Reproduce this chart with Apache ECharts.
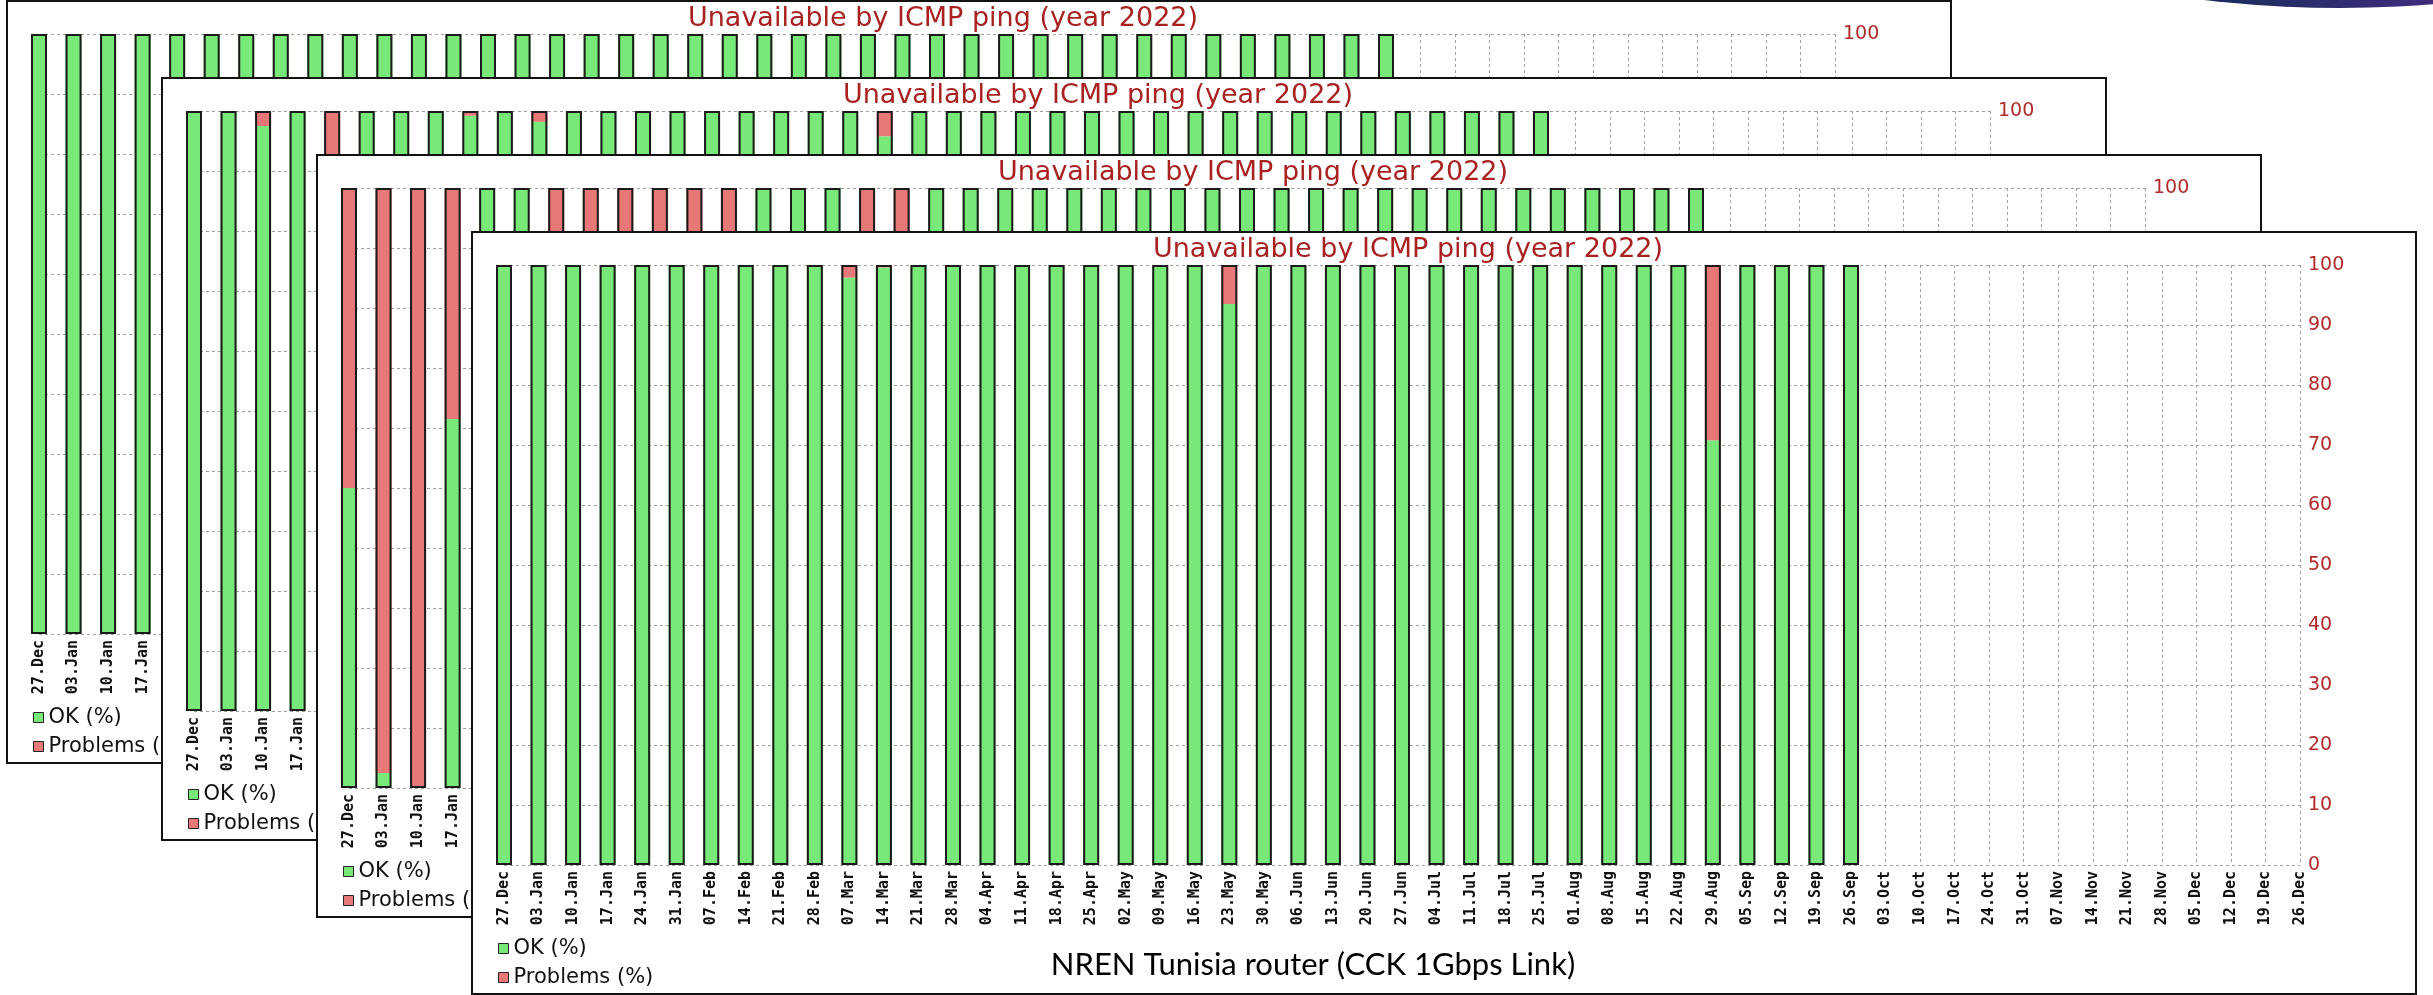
<!DOCTYPE html>
<html>
<head>
<meta charset="utf-8">
<script src="https://cdn.jsdelivr.net/npm/echarts@6/dist/echarts.min.js"></script>
<style>
html,body{margin:0;padding:0;background:#fff;width:2433px;height:995px;overflow:hidden;position:relative}
.panel{position:absolute;width:1946px;height:764px;background:#fff}
#deco{position:absolute;left:2040px;top:-140px;width:600px;height:148px;border-radius:50%;
  background:linear-gradient(90deg,#1b2d5a 0%,#1e2d62 35%,#3a2c78 60%,#4b2b84 80%,#b0409a 100%);z-index:10}
</style>
</head>
<body>
<div id="deco"></div>
<div class="panel" id="p1" style="left:6px;top:0px;z-index:1"></div>
<div class="panel" id="p2" style="left:161px;top:77px;z-index:2"></div>
<div class="panel" id="p3" style="left:316px;top:154px;z-index:3"></div>
<div class="panel" id="p4" style="left:471px;top:231px;z-index:4"></div>
<script>
const categories = ['27.Dec','03.Jan','10.Jan','17.Jan','24.Jan','31.Jan','07.Feb','14.Feb','21.Feb','28.Feb',
  '07.Mar','14.Mar','21.Mar','28.Mar','04.Apr','11.Apr','18.Apr','25.Apr','02.May','09.May',
  '16.May','23.May','30.May','06.Jun','13.Jun','20.Jun','27.Jun','04.Jul','11.Jul','18.Jul',
  '25.Jul','01.Aug','08.Aug','15.Aug','22.Aug','29.Aug','05.Sep','12.Sep','19.Sep','26.Sep',
  '03.Oct','10.Oct','17.Oct','24.Oct','31.Oct','07.Nov','14.Nov','21.Nov','28.Nov','05.Dec',
  '12.Dec','19.Dec','26.Dec'];

const chartTitle = 'Unavailable by ICMP ping (year 2022)';
const caption = 'NREN Tunisia router (CCK 1Gbps Link)';
const legendNames = ['OK (%)', 'Problems (%)'];

const okPanel1 = [100,100,100,100,100,100,100,100,100,100,
  100,100,100,100,100,100,100,100,100,100,
  100,100,100,100,100,100,100,100,100,100,
  100,100,100,100,100,100,100,100,100,100];
const problemsPanel1 = [0,0,0,0,0,0,0,0,0,0,
  0,0,0,0,0,0,0,0,0,0,
  0,0,0,0,0,0,0,0,0,0,
  0,0,0,0,0,0,0,0,0,0];

const okPanel2 = [100,100,97.5,100,60,100,100,100,99.2,100,
  98.2,100,100,100,100,100,100,100,100,100,
  95.8,100,100,100,100,100,100,100,100,100,
  100,100,100,100,100,100,100,100,100,100];
const problemsPanel2 = [0,0,2.5,0,40,0,0,0,0.8,0,
  1.8,0,0,0,0,0,0,0,0,0,
  4.2,0,0,0,0,0,0,0,0,0,
  0,0,0,0,0,0,0,0,0,0];

const okPanel3 = [50,2.5,0,61.5,100,100,0,0,0,0,
  0,0,100,100,100,0,0,100,100,100,
  100,100,100,100,100,100,100,100,100,100,
  100,100,100,100,100,100,100,100,100,100];
const problemsPanel3 = [50,97.5,100,38.5,0,0,100,100,100,100,
  100,100,0,0,0,100,100,0,0,0,
  0,0,0,0,0,0,0,0,0,0,
  0,0,0,0,0,0,0,0,0,0];

const okPanel4 = [100,100,100,100,100,100,100,100,100,100,
  97.9,99.6,100,100,100,100,100,100,100,100,
  100,93.5,100,100,100,100,100,100,100,100,
  100,100,100,100,100,70.8,100,100,100,100];
const problemsPanel4 = [0,0,0,0,0,0,0,0,0,0,
  2.1,0.4,0,0,0,0,0,0,0,0,
  0,6.5,0,0,0,0,0,0,0,0,
  0,0,0,0,0,29.2,0,0,0,0];

const GREEN = '#78e878';
const RED = '#e87878';
const PW = 1946, PH = 764;

function build(id, ok, problems, withCaption) {
  const chart = echarts.init(document.getElementById(id), null, {renderer: 'canvas'});
  const totals = ok.map((v, i) => v + problems[i]);
  const gridLine = {color: '#a0a0a0', width: 1, type: [3, 3]};
  const graphics = [
    {type: 'rect', shape: {x: 1, y: 1, width: PW - 2, height: PH - 2},
     style: {fill: null, stroke: '#111', lineWidth: 2}, z: 100, silent: true},
    {type: 'text', x: 937, y: 19, z: 100,
     style: {text: chartTitle, font: '27px "DejaVu Sans"', fill: '#a82222',
             textAlign: 'center', textVerticalAlign: 'middle'}}
  ];
  if (withCaption) {
    graphics.push({type: 'text', x: 842, y: 734, z: 100,
      style: {text: caption, font: '31px Lato, "Open Sans", sans-serif', fill: '#000',
              textAlign: 'center', textVerticalAlign: 'middle'}});
  }
  chart.setOption({
    animation: false,
    grid: {left: 33, top: 34, width: 1796, height: 600, containLabel: false},
    legend: {
      data: legendNames, orient: 'vertical', left: 27, top: 707, padding: 0,
      icon: 'rect', itemWidth: 10, itemHeight: 10, itemGap: 8, selectedMode: false,
      itemStyle: {borderColor: '#222', borderWidth: 1},
      textStyle: {fontFamily: 'DejaVu Sans', fontSize: 21, color: '#111', lineHeight: 21}
    },
    xAxis: {
      type: 'category', data: categories, boundaryGap: false,
      axisLine: {show: false}, axisTick: {show: false},
      axisLabel: {interval: 0, rotate: 90, margin: 6, fontFamily: 'DejaVu Sans Mono',
                  fontSize: 15, fontWeight: 'bold', color: '#111'},
      splitLine: {show: true, interval: 0, lineStyle: gridLine}
    },
    yAxis: {
      type: 'value', position: 'right', min: 0, max: 100, interval: 10,
      axisLine: {show: false}, axisTick: {show: false},
      axisLabel: {margin: 8, color: '#b02a2a', fontFamily: 'DejaVu Sans', fontSize: 19},
      splitLine: {show: true, lineStyle: gridLine}
    },
    series: [
      {name: legendNames[0], type: 'bar', stack: 'avail', data: ok, barWidth: 16,
       itemStyle: {color: GREEN}},
      {name: legendNames[1], type: 'bar', stack: 'avail', data: problems, barWidth: 16,
       itemStyle: {color: RED}},
      {name: 'outline', type: 'bar', data: totals, barWidth: 16, barGap: '-100%', z: 3,
       itemStyle: {color: 'rgba(0,0,0,0)', borderColor: '#1a1a1a', borderWidth: 2}}
    ],
    graphic: graphics
  });
}

build('p1', okPanel1, problemsPanel1, false);
build('p2', okPanel2, problemsPanel2, false);
build('p3', okPanel3, problemsPanel3, false);
build('p4', okPanel4, problemsPanel4, true);
</script>
</body>
</html>
